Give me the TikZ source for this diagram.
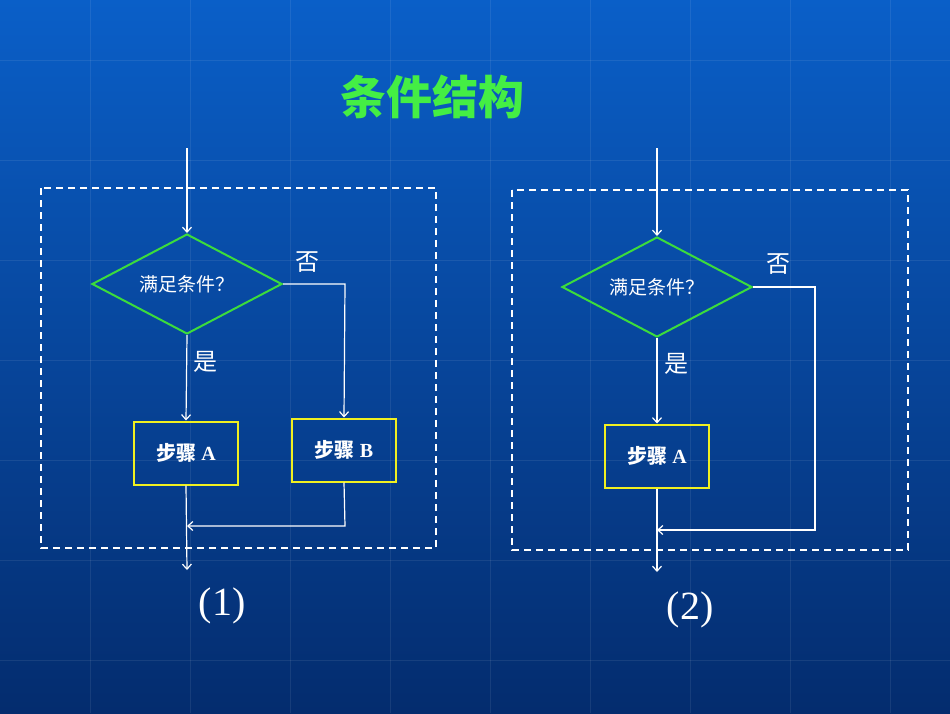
\documentclass[tikz,border=0pt]{standalone}
\usepackage{fontspec}
\setmainfont{Liberation Serif}
\newfontfamily\cjk{Noto Sans CJK SC}
\usetikzlibrary{arrows.meta,shapes.geometric}
\definecolor{bgtop}{HTML}{0A5FC8}
\definecolor{bgbot}{HTML}{042C6E}
\definecolor{grn}{HTML}{3CDC3C}
\definecolor{ttl}{HTML}{44EE44}
\definecolor{ylw}{HTML}{F0F020}
\tikzset{
 flow/.style={white,line width=1.2pt,-{Straight Barb[length=5pt,width=9pt]}},
 ln/.style={white,line width=1.2pt},
 dec/.style={diamond,draw=grn,line width=2pt,aspect=1.9,minimum width=190pt,minimum height=100pt,inner sep=0pt,text=white,font=\cjk\fontsize{19}{19}\selectfont},
 stepbox/.style={draw=ylw,line width=2pt,minimum width=104pt,minimum height=63pt,text=white,font=\fontsize{20}{20}\selectfont\bfseries},
 frame/.style={white,dashed,line width=2pt,dash pattern=on 7pt off 5pt},
 lbl/.style={text=white,font=\cjk\fontsize{24}{24}\selectfont},
 num/.style={text=white,font=\fontsize{40}{40}\selectfont}
}
\begin{document}
\begin{tikzpicture}[x=1pt,y=-1pt]
\shade[top color=bgtop,bottom color=bgbot] (0,0) rectangle (950,713);
\useasboundingbox (0,0) rectangle (950,713);
\foreach \x in {90,190,290,390,490,590,690,790,890}{\draw[white,opacity=0.08,line width=1pt] (\x,0) -- (\x,713);}
\foreach \y in {60,160,260,360,460,560,660}{\draw[white,opacity=0.08,line width=1pt] (0,\y) -- (950,\y);}
\node[text=ttl,font=\cjk\bfseries\fontsize{46}{46}\selectfont] (title) at (432,97) {条件结构};
% left
\draw[frame] (41,188) rectangle (436,548);
\coordinate (s1) at (187,148);
\node[dec] (d1) at (187,284) {满足条件？};
\node[stepbox] (a1) at (186,453) {{\cjk 步骤} A};
\node[stepbox] (b1) at (344,450) {{\cjk 步骤} B};
\coordinate (c1) at (345,284);
\coordinate (e1) at (345,526);
\coordinate (m1) at (187,526);
\coordinate (o1) at (187,570);
\draw[flow] (s1) -- (d1.north);
\draw[flow] (d1.south) -- (a1.north);
\draw[flow] (d1.east) -- (c1) -- (b1.north);
\draw[flow] (b1.south) -- (e1) -- (m1);
\draw[flow] (a1.south) -- (o1);
\node[lbl] (no1) at (307,262) {否};
\node[lbl] (yes1) at (205,362) {是};
\node[num] (n1) at (222,606) {(1)};
% right
\draw[frame] (512,190) rectangle (908,550);
\coordinate (s2) at (657,148);
\node[dec] (d2) at (657,287) {满足条件？};
\node[stepbox] (a2) at (657,456) {{\cjk 步骤} A};
\coordinate (c2) at (815,287);
\coordinate (e2) at (815,530);
\coordinate (m2) at (657,530);
\coordinate (o2) at (657,572);
\draw[flow] (s2) -- (d2.north);
\draw[flow] (d2.south) -- (a2.north);
\draw[flow] (d2.east) -- (c2) -- (e2) -- (m2);
\draw[flow] (a2.south) -- (o2);
\node[lbl] (no2) at (778,264) {否};
\node[lbl] (yes2) at (676,364) {是};
\node[num] (n2) at (690,610) {(2)};
\end{tikzpicture}
\end{document}
